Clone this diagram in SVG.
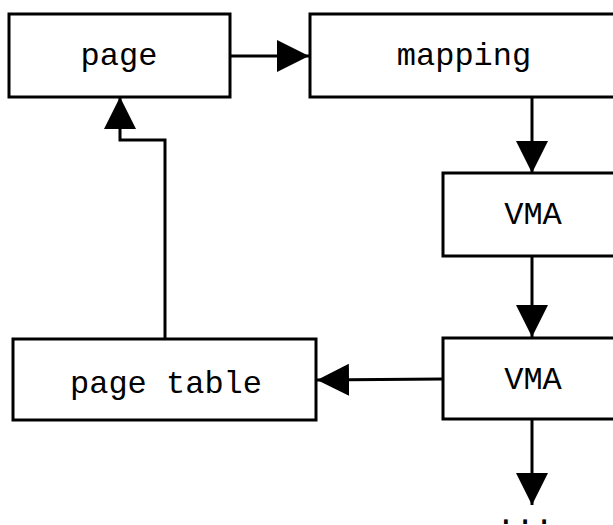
<svg xmlns="http://www.w3.org/2000/svg" width="613" height="525" viewBox="0 0 613 525">
  <style>
    .box { fill: #ffffff; stroke: #000000; stroke-width: 3; }
    .lbl { font-family: "Liberation Mono", "DejaVu Sans Mono", monospace; font-size: 32px; fill: #000000; text-anchor: middle; }
    .edge { fill: none; stroke: #000000; stroke-width: 3; }
  </style>
  <defs>
    <marker id="arrow" markerUnits="userSpaceOnUse" viewBox="0 0 32 32" refX="32" refY="16" markerWidth="32" markerHeight="32" orient="auto">
      <path d="M0,0 L32,16 L0,32 Z" fill="#000000"/>
    </marker>
  </defs>

  <g id="connectors">
    <!-- page -> mapping -->
    <path class="edge" d="M230,56 L309,56" marker-end="url(#arrow)"/>
    <!-- mapping -> VMA -->
    <path class="edge" d="M532,97 L532,173" marker-end="url(#arrow)"/>
    <!-- VMA -> VMA -->
    <path class="edge" d="M532,256 L532,337" marker-end="url(#arrow)"/>
    <!-- VMA -> page table -->
    <path class="edge" d="M443,379 L317,380" marker-end="url(#arrow)"/>
    <!-- page table -> page -->
    <path class="edge" d="M165,339 L165,140 L120,140 L120,97" marker-end="url(#arrow)"/>
    <!-- VMA -> more -->
    <path class="edge" d="M532,419 L532,505" marker-end="url(#arrow)"/>
  </g>

  <g id="page">
    <rect class="box" x="9" y="14" width="221" height="83"/>
    <text class="lbl" x="119" y="65">page</text>
  </g>
  <g id="mapping">
    <rect class="box" x="310" y="14" width="310" height="83"/>
    <text class="lbl" x="464" y="65">mapping</text>
  </g>
  <g id="vma1">
    <rect class="box" x="443" y="173" width="180" height="83"/>
    <text class="lbl" x="533" y="224">VMA</text>
  </g>
  <g id="vma2">
    <rect class="box" x="443" y="338" width="180" height="81"/>
    <text class="lbl" x="533" y="389">VMA</text>
  </g>
  <g id="page-table">
    <rect class="box" x="13" y="339" width="303" height="81"/>
    <text class="lbl" x="166" y="393">page table</text>
  </g>
  <g id="more">
    <text class="lbl" x="525" y="524">...</text>
  </g>
</svg>
